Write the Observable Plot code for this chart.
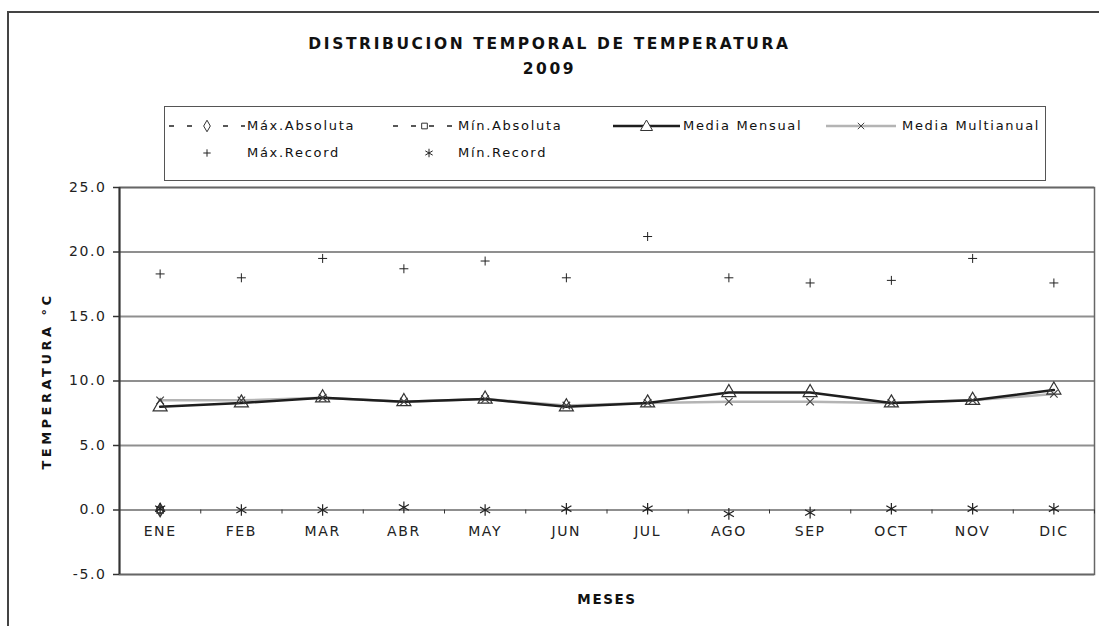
<!DOCTYPE html>
<html><head><meta charset="utf-8">
<script src="https://cdn.jsdelivr.net/npm/d3@7"></script>
<script src="https://cdn.jsdelivr.net/npm/@observablehq/plot@0.6"></script>
<style>
html,body{margin:0;padding:0;background:#fff;overflow:hidden;}
#wrap{position:relative;width:1099px;height:626px;font-family:"DejaVu Sans",sans-serif;color:#111;}
#wrap svg.plotsvg{position:absolute;left:0;top:0;}
.abs{position:absolute;white-space:nowrap;}
.lt{font-size:13px;letter-spacing:1.7px;line-height:18px;color:#111;}
</style></head><body>
<div id="wrap">
 <div class="abs" style="left:7px;top:11px;width:1092px;height:615px;border-top:2px solid #444;border-left:2px solid #444;"></div>
 <div id="title" class="abs" style="left:0;top:32px;width:1099px;text-align:center;font-weight:bold;font-size:15.5px;letter-spacing:2.6px;line-height:25px;"></div>
 <div id="legendbox" class="abs" style="left:164px;top:106px;width:880px;height:73px;border:1.5px solid #555;"></div>
</div>
<script>
// ---- data ----
const chartTitle = "DISTRIBUCION TEMPORAL DE TEMPERATURA";
const chartYear = "2009";
const yLabel = "TEMPERATURA °C";
const xLabel = "MESES";
const months = ["ENE","FEB","MAR","ABR","MAY","JUN","JUL","AGO","SEP","OCT","NOV","DIC"];
const maxAbsoluta = [0, null, null, null, null, null, null, null, null, null, null, null];
const minAbsoluta = [0, null, null, null, null, null, null, null, null, null, null, null];
const mediaMensual = [8.0, 8.3, 8.7, 8.4, 8.6, 8.0, 8.3, 9.1, 9.1, 8.3, 8.5, 9.3];
const mediaMultianual = [8.5, 8.5, 8.7, 8.4, 8.6, 8.1, 8.3, 8.4, 8.4, 8.3, 8.5, 9.0];
const maxRecord = [18.3, 18.0, 19.5, 18.7, 19.3, 18.0, 21.2, 18.0, 17.6, 17.8, 19.5, 17.6];
const minRecord = [0.1, 0.0, 0.0, 0.2, 0.0, 0.1, 0.1, -0.3, -0.2, 0.1, 0.1, 0.1];
const yTicks = [-5, 0, 5, 10, 15, 20, 25];
const seriesNames = ["Máx.Absoluta","Mín.Absoluta","Media Mensual","Media Multianual","Máx.Record","Mín.Record"];

// ---- table ----
const rows = months.map((m, i) => ({
  i, m,
  maxAbs: maxAbsoluta[i], minAbs: minAbsoluta[i],
  mens: mediaMensual[i], multi: mediaMultianual[i],
  maxRec: maxRecord[i], minRec: minRecord[i]
}));
const bounds = months.map((m, i) => i + 0.5);

const wrap = document.getElementById("wrap");
document.getElementById("title").innerHTML = chartTitle + "<br>" + chartYear;

const plot = Plot.plot({
  width: 1099, height: 626,
  marginLeft: 119, marginRight: 5, marginTop: 187, marginBottom: 52,
  x: {type: "linear", domain: [-0.5, 11.5], axis: null},
  y: {type: "linear", domain: [-5, 25], axis: null},
  style: {background: "transparent", fontFamily: "DejaVu Sans", color: "#111"},
  marks: [
    Plot.ruleY(yTicks, {stroke: "#8f8f8f", strokeWidth: 2}),
    Plot.frame({stroke: "#666", strokeWidth: 1.5}),
    Plot.ruleX([-0.5], {stroke: "#333", strokeWidth: 2}),
    Plot.ruleY(yTicks, {x1: -0.5, x2: -0.5, insetLeft: -6, stroke: "#333", strokeWidth: 1.5}),
    Plot.text(yTicks, {x: -0.5, y: d => d, text: d => d.toFixed(1), textAnchor: "end", dx: -13, fontSize: 14, fill: "#222"}),
    Plot.ruleX(bounds, {y1: 0, y2: 0, insetBottom: -4, stroke: "#333", strokeWidth: 1}),
    Plot.text(months, {x: (d, i) => i, y: 0, dy: 22, fontSize: 14, fill: "#222"}),
    Plot.line(rows, {x: "i", y: "multi", stroke: "#b4b4b4", strokeWidth: 2.5}),
    Plot.line(rows, {x: "i", y: "mens", stroke: "#1e1e1e", strokeWidth: 2.5}),
    Plot.dot(rows, {x: "i", y: "multi", symbol: "times", r: 3.5, stroke: "#444", strokeWidth: 1.2}),
    Plot.dot(rows, {x: "i", y: "mens", symbol: "triangle", r: 5.2, fill: "none", stroke: "#333", strokeWidth: 1.2}),
    Plot.dot(rows.filter(d => d.maxAbs != null), {x: "i", y: "maxAbs", symbol: "diamond", r: 4, fill: "none", stroke: "#333"}),
    Plot.dot(rows.filter(d => d.minAbs != null), {x: "i", y: "minAbs", symbol: "square", r: 3.5, fill: "none", stroke: "#333"}),
    Plot.dot(rows, {x: "i", y: "maxRec", symbol: "plus", r: 3, stroke: "#222", strokeWidth: 1}),
    Plot.dot(rows, {x: "i", y: "minRec", symbol: "asterisk", r: 5.5, stroke: "#222", strokeWidth: 1.2}),
    Plot.text([yLabel], {frameAnchor: "left", textAnchor: "middle", dx: -73, rotate: -90, fontWeight: "bold", fontSize: 13, fill: "#111"}),
    Plot.text([xLabel], {frameAnchor: "bottom", dy: 29, fontWeight: "bold", fontSize: 13.5, fill: "#111"})
  ]
});
plot.classList.add("plotsvg");
d3.select(plot).selectAll("text").style("letter-spacing", "1.6px");
d3.select(plot).selectAll("text").filter(function() { return this.textContent === yLabel; }).style("letter-spacing", "3.5px");
wrap.insertBefore(plot, wrap.firstChild);

// ---- legend ----
const legendLayout = [
  {kind: "maxAbs", sx: 169, sw: 76, tx: 247, cy: 126},
  {kind: "minAbs", sx: 393, sw: 63, tx: 458, cy: 126},
  {kind: "mens",   sx: 613, sw: 67, tx: 683, cy: 126},
  {kind: "multi",  sx: 826, sw: 70, tx: 902, cy: 126},
  {kind: "maxRec", sx: 190, sw: 34, tx: 247, cy: 153},
  {kind: "minRec", sx: 412, sw: 34, tx: 458, cy: 153}
];
const sym = (type, r) => d3.symbol(type, r * r * Math.PI)();
legendLayout.forEach((it, k) => {
  const svg = d3.select(wrap).append("svg").attr("class", "abs")
    .style("left", it.sx + "px").style("top", (it.cy - 8) + "px")
    .attr("width", it.sw).attr("height", 16);
  const mid = it.sw / 2;
  const g = svg.append("g");
  if (it.kind === "maxAbs" || it.kind === "minAbs") {
    g.append("line").attr("x1", 0).attr("x2", it.sw).attr("y1", 8).attr("y2", 8)
      .attr("stroke", "#222").attr("stroke-width", 1.5).attr("stroke-dasharray", "5,13");
    g.append("path").attr("transform", `translate(${mid},8)`)
      .attr("d", it.kind === "maxAbs" ? sym(d3.symbolDiamond, 3.5) : sym(d3.symbolSquare, 3.2))
      .attr("fill", "white").attr("stroke", "#333");
  } else if (it.kind === "mens") {
    g.append("line").attr("x1", 0).attr("x2", it.sw).attr("y1", 8).attr("y2", 8)
      .attr("stroke", "#1e1e1e").attr("stroke-width", 2.5);
    g.append("path").attr("transform", `translate(${mid},9)`)
      .attr("d", sym(d3.symbolTriangle, 4.5)).attr("fill", "white").attr("stroke", "#333");
  } else if (it.kind === "multi") {
    g.append("line").attr("x1", 0).attr("x2", it.sw).attr("y1", 8).attr("y2", 8)
      .attr("stroke", "#b4b4b4").attr("stroke-width", 2.5);
    g.append("path").attr("transform", `translate(${mid},8)`)
      .attr("d", sym(d3.symbolTimes, 3)).attr("fill", "none").attr("stroke", "#444");
  } else if (it.kind === "maxRec") {
    g.append("path").attr("transform", `translate(${mid},8)`)
      .attr("d", sym(d3.symbolPlus, 2.5)).attr("fill", "none").attr("stroke", "#222");
  } else {
    g.append("path").attr("transform", `translate(${mid},8)`)
      .attr("d", sym(d3.symbolAsterisk, 4)).attr("fill", "none").attr("stroke", "#222");
  }
  d3.select(wrap).append("div").attr("class", "abs lt")
    .style("left", it.tx + "px").style("top", (it.cy - 9) + "px")
    .text(seriesNames[k]);
});
</script>
</body></html>
